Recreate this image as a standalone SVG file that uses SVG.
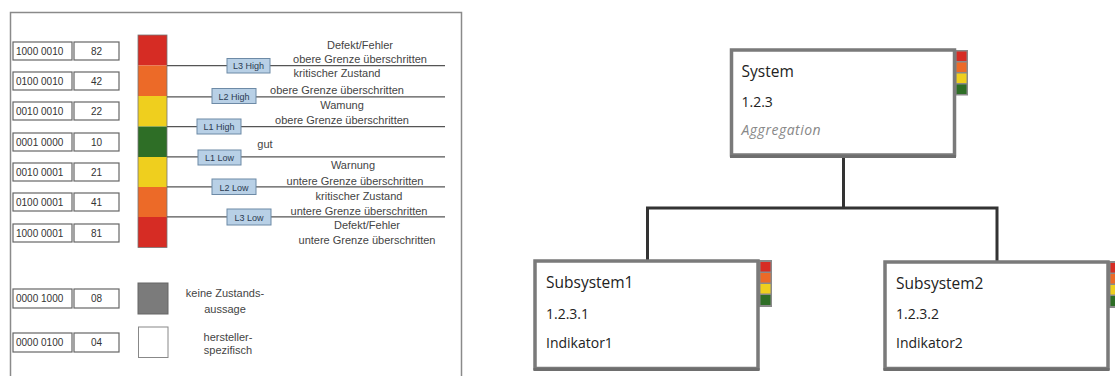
<svg xmlns="http://www.w3.org/2000/svg" width="1115" height="376" viewBox="0 0 1115 376">
<defs>
<style>
.code{fill:#fff;stroke:#666;stroke-width:1.2}
.ct{font-family:"Liberation Sans",Arial,sans-serif;font-size:10px;fill:#333}
.lbl{fill:#b8d0e6;stroke:#6d8aa6;stroke-width:1}
.lt{font-family:"Liberation Sans",Arial,sans-serif;font-size:9px;fill:#2b3b52;text-anchor:middle}
.dt{font-family:"Liberation Sans",Arial,sans-serif;font-size:11px;fill:#444;text-anchor:middle}
.lim{stroke:#555;stroke-width:1.2}
.node{fill:#fff;stroke:#7a7a7a;stroke-width:3.5}
.nshadow{stroke:#6e6e6e;stroke-width:3}
.t1{font-family:"Open Sans","Noto Sans",sans-serif;font-size:15.5px;fill:#222}
.t2{font-family:"Open Sans","Noto Sans",sans-serif;font-size:14px;fill:#222}
.ti{font-family:"Open Sans","Noto Sans",sans-serif;font-size:14px;fill:#888;font-style:italic;letter-spacing:0.5px}
.conn{fill:none;stroke:#333;stroke-width:3}
.r{fill:#d62c24}.o{fill:#ec6a28}.y{fill:#efcf1e}.g{fill:#2e6e26}
</style>
</defs>
<rect width="1115" height="376" fill="#fff"/>

<g id="legend">
<path d="M10.5,380 V12.5 H461.5 V380" fill="none" stroke="#8a8a8a" stroke-width="1.5"/>
<g id="codes">
<rect class="code" x="13" y="42" width="59" height="18"/><rect class="code" x="74" y="42" width="45" height="18"/>
<text class="ct" x="16" y="55">1000 0010</text><text class="ct" x="96.5" y="55" text-anchor="middle">82</text>
<rect class="code" x="13" y="72" width="59" height="18"/><rect class="code" x="74" y="72" width="45" height="18"/>
<text class="ct" x="16" y="85">0100 0010</text><text class="ct" x="96.5" y="85" text-anchor="middle">42</text>
<rect class="code" x="13" y="102" width="59" height="18"/><rect class="code" x="74" y="102" width="45" height="18"/>
<text class="ct" x="16" y="115">0010 0010</text><text class="ct" x="96.5" y="115" text-anchor="middle">22</text>
<rect class="code" x="13" y="133" width="59" height="18"/><rect class="code" x="74" y="133" width="45" height="18"/>
<text class="ct" x="16" y="146">0001 0000</text><text class="ct" x="96.5" y="146" text-anchor="middle">10</text>
<rect class="code" x="13" y="163" width="59" height="18"/><rect class="code" x="74" y="163" width="45" height="18"/>
<text class="ct" x="16" y="176">0010 0001</text><text class="ct" x="96.5" y="176" text-anchor="middle">21</text>
<rect class="code" x="13" y="193" width="59" height="18"/><rect class="code" x="74" y="193" width="45" height="18"/>
<text class="ct" x="16" y="206">0100 0001</text><text class="ct" x="96.5" y="206" text-anchor="middle">41</text>
<rect class="code" x="13" y="224" width="59" height="18"/><rect class="code" x="74" y="224" width="45" height="18"/>
<text class="ct" x="16" y="237">1000 0001</text><text class="ct" x="96.5" y="237" text-anchor="middle">81</text>
<rect class="code" x="13" y="289" width="59" height="19"/><rect class="code" x="74" y="289" width="45" height="19"/>
<text class="ct" x="16" y="302">0000 1000</text><text class="ct" x="96.5" y="302" text-anchor="middle">08</text>
<rect class="code" x="13" y="333" width="59" height="19"/><rect class="code" x="74" y="333" width="45" height="19"/>
<text class="ct" x="16" y="346">0000 0100</text><text class="ct" x="96.5" y="346" text-anchor="middle">04</text>
</g>
<g id="bar">
<rect class="r" x="138" y="35" width="29" height="30.5"/>
<rect class="o" x="138" y="65.5" width="29" height="30.5"/>
<rect class="y" x="138" y="96" width="29" height="30.5"/>
<rect class="g" x="138" y="126.5" width="29" height="30.5"/>
<rect class="y" x="138" y="157" width="29" height="30"/>
<rect class="o" x="138" y="187" width="29" height="30"/>
<rect class="r" x="138" y="217" width="29" height="30.5"/>
<rect x="138" y="35" width="29" height="212.5" fill="none" stroke="#777" stroke-width="0.8"/>
</g>
<g id="limits">
<line class="lim" x1="167" y1="65.7" x2="445" y2="65.7"/>
<line class="lim" x1="167" y1="96.8" x2="445" y2="96.8"/>
<line class="lim" x1="167" y1="126.7" x2="445" y2="126.7"/>
<line class="lim" x1="167" y1="156.8" x2="445" y2="156.8"/>
<line class="lim" x1="167" y1="186.8" x2="445" y2="186.8"/>
<line class="lim" x1="167" y1="216.8" x2="445" y2="216.8"/>
<rect class="lbl" x="227" y="58.5" width="43" height="14.5"/><text class="lt" x="248.5" y="69">L3 High</text>
<rect class="lbl" x="212" y="88.5" width="44" height="15"/><text class="lt" x="234" y="99.5">L2 High</text>
<rect class="lbl" x="197" y="119" width="44" height="15"/><text class="lt" x="219" y="130">L1 High</text>
<rect class="lbl" x="198" y="150" width="43" height="15"/><text class="lt" x="219.5" y="161">L1 Low</text>
<rect class="lbl" x="212" y="179" width="44" height="15.5"/><text class="lt" x="234" y="190.5">L2 Low</text>
<rect class="lbl" x="227" y="209" width="44" height="16"/><text class="lt" x="249" y="220.5">L3 Low</text>
</g>
<g id="descriptions">
<text class="dt" x="360" y="49">Defekt/Fehler</text>
<text class="dt" x="360" y="63">obere Grenze überschritten</text>
<text class="dt" x="337" y="77">kritischer Zustand</text>
<text class="dt" x="337" y="94">obere Grenze überschritten</text>
<text class="dt" x="342" y="109">Wamung</text>
<text class="dt" x="342" y="124">obere Grenze überschritten</text>
<text class="dt" x="265" y="148" text-anchor="start">gut</text>
<text class="dt" x="353" y="169">Warnung</text>
<text class="dt" x="355" y="185">untere Grenze überschritten</text>
<text class="dt" x="359" y="200">kritischer Zustand</text>
<text class="dt" x="359" y="214.5">untere Grenze überschritten</text>
<text class="dt" x="367" y="229">Defekt/Fehler</text>
<text class="dt" x="367" y="244">untere Grenze überschritten</text>
</g>
<g id="extra">
<rect x="138" y="283" width="30" height="31" fill="#7b7b7b" stroke="#666" stroke-width="1"/>
<rect x="138.5" y="327" width="29.5" height="30.5" fill="#fff" stroke="#888" stroke-width="1"/>
<text class="dt" x="225" y="297">keine Zustands-</text>
<text class="dt" x="225" y="313">aussage</text>
<text class="dt" x="228" y="341">hersteller-</text>
<text class="dt" x="228" y="354">spezifisch</text>
</g>
</g>

<g id="connectors">
<path class="conn" d="M843.5,157 V208 M647.5,260 V208 H997 V261"/>
</g>

<g id="system">
<rect x="955" y="50" width="13" height="45.5" fill="#8a8a8a"/>
<rect class="r" x="956.5" y="51.5" width="10" height="9.5"/>
<rect class="o" x="956.5" y="62.5" width="10" height="9.5"/>
<rect class="y" x="956.5" y="73.5" width="10" height="9.5"/>
<rect class="g" x="956.5" y="84.5" width="10" height="9.5"/>
<rect class="node" x="731.5" y="50" width="223" height="105"/>
<line class="nshadow" x1="730" y1="156.5" x2="956" y2="156.5"/>
<text class="t1" x="741.5" y="76.5">System</text>
<text class="t2" x="741.5" y="107">1.2.3</text>
<text class="ti" x="741.5" y="135">Aggregation</text>
</g>

<g id="subsystem1">
<rect x="759" y="260" width="13" height="47" fill="#8a8a8a"/>
<rect class="r" x="760.5" y="262" width="10" height="9.5"/>
<rect class="o" x="760.5" y="273" width="10" height="9.5"/>
<rect class="y" x="760.5" y="284" width="10" height="9.5"/>
<rect class="g" x="760.5" y="295" width="10" height="10"/>
<rect class="node" x="535" y="261" width="223" height="107.5"/>
<line class="nshadow" x1="533.5" y1="369.5" x2="759.5" y2="369.5"/>
<text class="t1" x="546" y="287.5">Subsystem1</text>
<text class="t2" x="546" y="318.5">1.2.3.1</text>
<text class="t2" x="546" y="348">Indikator1</text>
</g>

<g id="subsystem2">
<rect x="1109" y="261" width="13" height="47" fill="#8a8a8a"/>
<rect class="r" x="1110.5" y="263" width="10" height="9.5"/>
<rect class="o" x="1110.5" y="274" width="10" height="9.5"/>
<rect class="y" x="1110.5" y="285" width="10" height="9.5"/>
<rect class="g" x="1110.5" y="296" width="10" height="10"/>
<rect class="node" x="885" y="262" width="223" height="106.5"/>
<line class="nshadow" x1="883.5" y1="369.5" x2="1109.5" y2="369.5"/>
<text class="t1" x="896" y="288.5">Subsystem2</text>
<text class="t2" x="896" y="319">1.2.3.2</text>
<text class="t2" x="896" y="348">Indikator2</text>
</g>
</svg>
